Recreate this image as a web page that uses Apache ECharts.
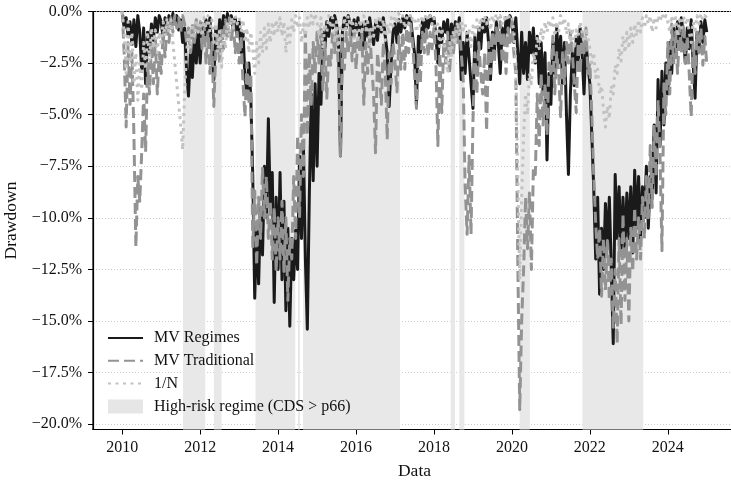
<!DOCTYPE html>
<html>
<head>
<meta charset="utf-8">
<script src="https://cdn.jsdelivr.net/npm/echarts@6/dist/echarts.min.js"></script>
<style>html,body{margin:0;padding:0;background:#fff}#c{width:731px;height:481px}</style>
</head>
<body>
<div id="c"></div>
<script>
// Sampling grid of the series (years), 20 samples per year from 2010.00 to 2025.00
const startYear = 2010;
const stepYears = 0.05;

// Drawdown (%) — MV Regimes
const mvRegimes = [
 0,-0.8,-0.3,-1.2,-0.5,-1.6,-0.4,-1.7,-0.2,-1.0,-2.9,-0.8,-3.5,-1.0,-2.0,-0.6,-1.4,-0.3,-1.0,-0.2,
 -0.5,-1.3,-0.3,-1.0,-0.2,-0.8,-0.1,-0.6,-0.2,-0.9,-0.4,-1.5,-0.8,-2.8,-4.1,-2.0,-3.2,-1.2,-2.5,-0.8,
 -2.5,-0.6,-1.5,-0.4,-1.2,-0.3,-2.0,-3.3,-0.8,-1.8,-0.4,-1.0,-0.2,-0.7,-0.1,-0.5,-0.2,-0.9,-0.3,-1.2,
 -0.5,-2.0,-1.0,-3.2,-4.0,-2.5,-4.2,-8.0,-13.9,-10.5,-13.2,-9.5,-11.8,-7.5,-10.0,-5.2,-9.5,-7.8,-14.1,-9.0,
 -12.5,-7.8,-13.0,-9.2,-14.5,-10.5,-15.25,-11.0,-13.0,-10.6,-12.5,-7.0,-11.0,-6.5,-12.0,-15.4,-9.0,-4.0,-8.2,-3.5,
 -7.5,-3.0,-4.5,-1.0,-1.8,-0.5,-1.2,-0.3,-0.8,-0.2,-0.6,-1.5,-7.0,-1.0,-0.3,-0.8,-0.2,-0.6,-1.2,-0.4,
 -1.0,-0.3,-1.4,-0.6,-1.8,-0.5,-1.2,-0.3,-1.0,-1.6,-0.6,-1.4,-0.4,-1.0,-0.3,-1.2,-2.0,-4.6,-2.5,-1.0,
 -0.6,-1.5,-0.4,-1.0,-0.3,-0.8,-0.2,-0.6,-0.3,-1.2,-2.0,-4.5,-1.2,-2.0,-0.5,-1.0,-0.3,-0.8,-0.2,-0.6,
 -0.3,-1.2,-2.5,-0.8,-1.5,-0.5,-1.0,-0.4,-1.8,-0.6,-1.2,-0.5,-1.0,-0.3,-3.3,-1.5,-3.0,-1.0,-2.2,-3.5,
 -4.7,-1.2,-3.0,-0.8,-1.8,-0.4,-1.0,-0.3,-1.5,-3.3,-1.0,-2.0,-0.5,-1.5,-3.0,-0.8,-1.6,-0.3,-1.0,-0.2,
 -0.5,-1.5,-0.3,-2.0,-3.5,-1.0,-3.0,-1.5,-3.3,-1.0,-2.0,-0.8,-2.5,-1.2,-3.5,-1.5,-4.0,-2.0,-7.2,-3.0,
 -4.5,-1.5,-3.0,-0.8,-2.5,-1.2,-3.5,-1.5,-5.0,-7.9,-4.0,-2.0,-3.6,-1.2,-2.5,-0.8,-2.0,-4.0,-1.5,-2.6,
 -3.5,-6.0,-8.6,-12.0,-9.0,-13.7,-10.5,-12.5,-9.3,-11.4,-9.0,-12.5,-16.1,-7.9,-11.0,-8.5,-11.7,-9.0,-11.5,-8.8,
 -11.0,-8.5,-11.7,-7.7,-10.5,-8.0,-11.0,-8.5,-10.0,-7.5,-10.5,-8.0,-9.0,-5.5,-8.8,-3.3,-6.5,-2.9,-5.5,-2.5,
 -4.0,-1.5,-3.0,-0.8,-2.0,-0.5,-1.5,-0.3,-1.2,-2.5,-0.8,-1.8,-0.4,-2.5,-4.2,-1.0,-2.0,-0.5,-1.5,-0.4,
 -1.0
];

// Drawdown (%) — MV Traditional
const mvTraditional = [
 0,-2.0,-5.6,-1.5,-4.5,-2.0,-6.0,-11.4,-8.0,-9.2,-6.8,-4.0,-6.8,-2.5,-4.0,-1.5,-3.5,-1.3,-4.0,-2.0,
 -3.0,-1.0,-2.2,-0.5,-1.5,-0.3,-1.0,-0.2,-0.8,-0.3,-1.0,-0.2,-0.6,-1.5,-0.8,-2.0,-0.6,-1.5,-0.4,-1.0,
 -0.5,-1.8,-0.6,-2.5,-1.0,-3.0,-1.5,-4.6,-2.0,-1.0,-2.5,-0.8,-1.8,-0.4,-1.2,-0.3,-1.5,-0.5,-2.0,-1.0,
 -2.5,-1.2,-3.5,-5.1,-2.5,-4.5,-3.0,-11.4,-8.7,-12.3,-9.0,-11.0,-7.6,-10.0,-8.0,-11.0,-9.2,-12.0,-9.5,-12.6,
 -10.0,-12.0,-9.2,-12.6,-10.0,-14.0,-11.0,-12.0,-8.0,-11.0,-6.0,-10.0,-5.0,-8.0,-1.0,-6.0,-2.0,-4.5,-1.5,-3.0,
 -1.0,-2.5,-0.8,-3.8,-1.5,-4.2,-2.0,-2.6,-1.0,-2.0,-0.8,-3.0,-7.0,-1.5,-2.8,-1.0,-2.0,-0.8,-2.4,-1.0,
 -2.8,-1.2,-2.0,-1.0,-4.5,-1.5,-3.0,-1.0,-2.5,-4.0,-6.85,-2.0,-3.0,-4.5,-1.5,-3.0,-6.2,-2.0,-3.5,-1.5,
 -2.5,-3.9,-1.2,-2.8,-1.0,-2.8,-0.8,-2.0,-0.6,-1.5,-3.0,-4.7,-2.0,-3.5,-1.0,-2.0,-0.8,-2.2,-1.0,-1.8,
 -0.8,-2.5,-6.5,-2.0,-4.9,-1.5,-2.5,-1.0,-3.0,-1.2,-2.0,-0.8,-1.5,-0.5,-2.0,-3.3,-8.5,-10.8,-7.0,-10.8,
 -5.3,-2.0,-4.0,-1.5,-3.0,-4.0,-2.0,-5.8,-1.5,-3.0,-1.0,-2.5,-0.8,-1.5,-0.5,-2.5,-1.0,-3.0,-0.8,-1.5,
 -0.5,-2.0,-3.0,-12.0,-19.3,-15.0,-12.5,-9.0,-11.5,-8.8,-12.5,-7.6,-7.9,-4.0,-6.5,-3.0,-5.5,-3.5,-6.0,-2.5,
 -3.0,-1.2,-4.0,-2.0,-3.0,-5.1,-2.0,-3.5,-1.5,-2.5,-1.0,-2.0,-3.5,-4.9,-1.5,-3.0,-1.0,-2.0,-0.8,-3.0,
 -2.5,-5.0,-8.0,-10.3,-12.0,-10.5,-13.8,-11.0,-13.5,-11.1,-14.0,-12.0,-15.3,-12.5,-16.1,-11.0,-15.2,-9.8,-14.0,-11.0,
 -15.0,-10.5,-12.6,-9.5,-12.0,-10.0,-12.0,-9.0,-11.0,-8.0,-10.0,-6.5,-9.5,-5.5,-8.0,-4.3,-7.0,-11.6,-3.5,-5.0,
 -1.5,-4.0,-0.6,-2.5,-1.0,-3.0,-0.8,-2.0,-0.6,-2.5,-1.2,-3.0,-5.1,-1.5,-3.0,-1.0,-2.0,-0.8,-2.6,-1.2,
 -2.6
];

// Drawdown (%) — 1/N
const oneOverN = [
 0,-1.0,-3.0,-0.5,-2.5,-1.0,-3.5,-2.0,-4.3,-2.5,-3.8,-1.5,-2.8,-1.0,-2.4,-0.8,-1.8,-0.9,-2.0,-1.0,
 -1.5,-0.5,-1.2,-0.3,-1.0,-0.4,-1.5,-2.5,-3.5,-4.5,-5.5,-6.7,-4.0,-2.0,-1.0,-1.8,-0.6,-1.2,-0.4,-1.0,
 -0.5,-1.2,-0.3,-0.8,-0.2,-1.0,-0.4,-1.5,-0.6,-2.0,-0.8,-2.7,-1.0,-1.8,-0.5,-1.2,-0.3,-0.8,-0.2,-0.6,
 -0.3,-1.0,-0.4,-1.5,-0.8,-2.0,-1.0,-1.8,-3.0,-1.5,-2.5,-1.0,-2.0,-0.8,-1.8,-0.6,-1.5,-0.5,-1.2,-0.4,
 -1.0,-0.3,-1.2,-0.5,-2.0,-0.8,-1.5,-0.4,-1.0,-0.2,-0.8,-0.3,-1.5,-0.6,-1.2,-0.3,-0.8,-0.2,-0.6,-0.1,
 -0.5,-1.2,-0.3,-1.8,-0.6,-1.0,-0.2,-0.8,-0.3,-1.5,-0.5,-1.9,-0.8,-1.2,-0.3,-0.9,-0.2,-0.7,-0.4,-1.3,
 -0.6,-1.5,-0.4,-1.1,-0.2,-0.9,-0.5,-1.6,-0.7,-1.2,-0.3,-0.8,-0.2,-1.0,-0.4,-1.4,-0.6,-1.1,-0.3,-0.7,
 -0.2,-0.6,-0.1,-0.5,-0.2,-0.8,-0.3,-0.6,-0.1,-0.4,-0.3,-1.0,-0.4,-0.7,-0.2,-0.5,-0.1,-0.4,-0.2,-0.6,
 -0.3,-1.2,-0.6,-1.7,-0.8,-1.4,-2.0,-3.0,-1.5,-2.2,-0.9,-1.6,-0.5,-1.2,-0.4,-0.9,-0.6,-1.4,-0.8,-1.7,
 -0.7,-1.3,-0.4,-1.0,-0.3,-0.8,-0.2,-0.6,-0.3,-0.9,-0.2,-0.5,-0.1,-0.4,-0.2,-0.6,-0.3,-0.5,-0.1,-0.4,
 -0.3,-1.0,-2.5,-8.0,-13.0,-9.0,-6.0,-4.0,-5.0,-3.0,-3.5,-2.0,-2.5,-1.2,-1.8,-0.8,-1.3,-0.5,-1.0,-0.4,
 -0.8,-0.3,-1.2,-0.5,-1.0,-0.2,-0.7,-0.3,-1.1,-0.6,-1.5,-0.8,-1.8,-0.9,-1.2,-0.5,-1.0,-1.5,-0.8,-1.3,
 -1.8,-2.5,-2.0,-3.2,-2.8,-4.0,-3.6,-4.8,-5.6,-4.6,-5.2,-3.6,-4.0,-2.6,-3.0,-1.8,-2.4,-1.2,-2.0,-1.0,
 -1.8,-0.8,-1.5,-0.6,-1.2,-0.4,-1.0,-0.3,-0.8,-0.2,-0.6,-0.2,-1.0,-0.3,-0.8,-0.2,-0.5,-0.1,-0.4,-0.2,
 -0.5,-1.0,-0.2,-0.7,-0.3,-1.2,-0.4,-0.8,-0.2,-0.6,-0.3,-1.0,-1.5,-0.5,-0.9,-0.2,-0.6,-0.1,-0.4,-0.2,
 -0.3
];

// High-risk regime periods (start year, end year)
const regimeSpans = [
 [2011.56, 2012.13], [2012.35, 2012.55], [2013.42, 2014.44], [2014.51, 2014.56],
 [2014.64, 2017.13], [2018.43, 2018.54], [2018.65, 2018.78], [2020.20, 2020.46],
 [2021.81, 2023.37]
];

const xTicks = [2010, 2012, 2014, 2016, 2018, 2020, 2022, 2024];
const yTicks = [0, -2.5, -5, -7.5, -10, -12.5, -15, -17.5, -20];
const seriesNames = ['MV Regimes', 'MV Traditional', '1/N', 'High-risk regime (CDS > p66)'];

const toPairs = arr => arr.map((v, i) => [startYear + i * stepYears, v]);
const FONT = 'Liberation Serif';

const chart = echarts.init(document.getElementById('c'), null, {renderer: 'canvas'});
chart.setOption({
  animation: false,
  backgroundColor: '#ffffff',
  grid: {left: 93, top: 11.5, width: 643, height: 418, outerBoundsMode: 'none', containLabel: false,
    show: true, borderColor: '#000', borderWidth: 1.2, backgroundColor: 'transparent'},
  xAxis: {
    type: 'value', min: 2009.25, max: 2025.75,
    name: 'Data', nameLocation: 'middle', nameGap: 33,
    nameTextStyle: {fontFamily: FONT, fontSize: 17.5, color: '#111'},
    axisLine: {show: true, onZero: false, lineStyle: {color: '#000', width: 1.2}},
    axisTick: {show: true, length: 5, inside: false, customValues: xTicks, lineStyle: {color: '#000', width: 1}},
    axisLabel: {customValues: xTicks, margin: 10, fontFamily: FONT, fontSize: 16, color: '#111', formatter: v => String(Math.round(v))},
    splitLine: {show: false}
  },
  yAxis: {
    type: 'value', min: -20.26, max: 0,
    name: 'Drawdown', nameLocation: 'middle', nameGap: 63,
    nameTextStyle: {fontFamily: FONT, fontSize: 17.5, color: '#111'},
    axisLine: {show: true, onZero: false, lineStyle: {color: '#000', width: 1.2}},
    axisTick: {show: true, length: 5, inside: false, customValues: yTicks, lineStyle: {color: '#000', width: 1}},
    axisLabel: {customValues: yTicks, margin: 11, fontFamily: FONT, fontSize: 16, color: '#111',
      formatter: v => (Math.abs(v) < 1e-9 ? '0.0' : v.toFixed(1).replace('-', '\u2212')) + '%'},
    splitLine: {show: true, lineStyle: {color: '#bdbdbd', width: 0.8, type: [1, 2]}}
  },
  legend: {
    orient: 'vertical', left: 107, top: 330, padding: 0, itemWidth: 35, itemHeight: 14, itemGap: 6.8,
    textStyle: {fontFamily: FONT, fontSize: 16, color: '#111', lineHeight: 16, padding: [0, 0, 0, 6]},
    data: [
      {name: seriesNames[0], itemStyle: {opacity: 0}},
      {name: seriesNames[1], itemStyle: {opacity: 0}},
      {name: seriesNames[2], itemStyle: {opacity: 0}},
      {name: seriesNames[3], icon: 'rect', itemStyle: {color: '#e6e6e6', opacity: 1}}
    ]
  },
  series: [
    {
      name: seriesNames[3], type: 'line', data: [], symbol: 'none', z: 1,
      itemStyle: {color: '#e6e6e6'}, lineStyle: {width: 0},
      markArea: {silent: true, itemStyle: {color: '#e8e8e8', opacity: 1},
        data: regimeSpans.map(s => [{xAxis: s[0]}, {xAxis: s[1]}])}
    },
    {
      name: seriesNames[0], type: 'line', data: toPairs(mvRegimes), symbol: 'none', z: 2,
      itemStyle: {color: '#1a1a1a'}, lineStyle: {color: '#1a1a1a', width: 3, join: 'round'}
    },
    {
      name: seriesNames[1], type: 'line', data: toPairs(mvTraditional), symbol: 'none', z: 3,
      itemStyle: {color: '#939393'}, lineStyle: {color: '#939393', width: 3, type: [11, 5], join: 'round'}
    },
    {
      name: seriesNames[2], type: 'line', data: toPairs(oneOverN), symbol: 'none', z: 4,
      itemStyle: {color: '#c2c2c2'}, lineStyle: {color: '#c2c2c2', width: 3, type: [3, 4.5], join: 'round'}
    }
  ]
});
</script>
</body>
</html>
